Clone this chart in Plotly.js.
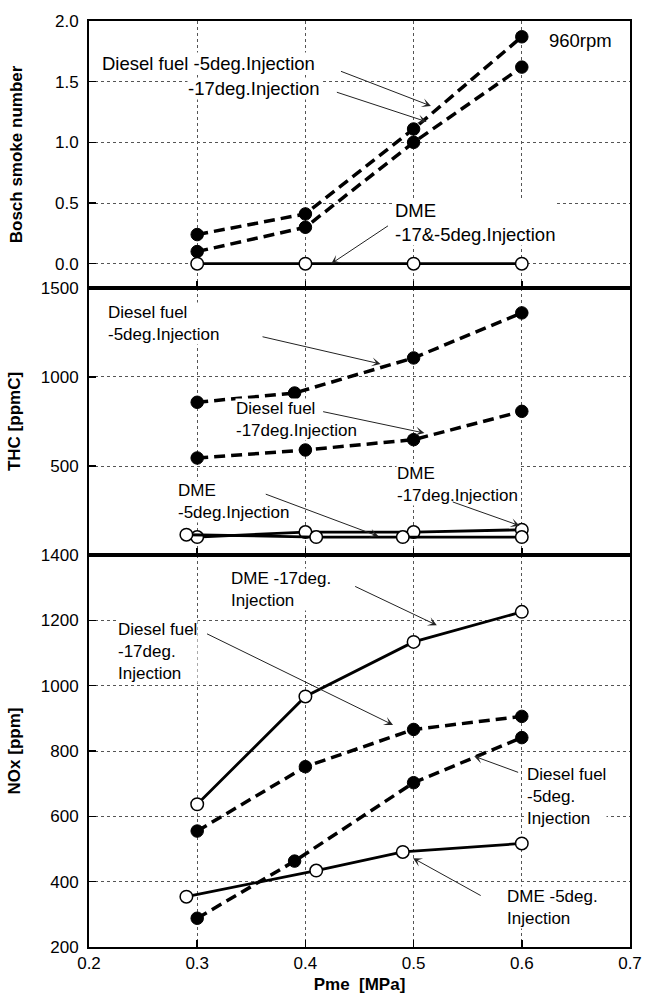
<!DOCTYPE html>
<html>
<head>
<meta charset="utf-8">
<script src="https://cdn.plot.ly/plotly-3.0.1.min.js"></script>
<style>html,body{margin:0;padding:0;background:#fff;}#chart{width:649px;height:1001px;}</style>
</head>
<body>
<div id="chart"></div>
<script>
// ---- data ----
const pme = [0.3, 0.4, 0.5, 0.6];
const xTickLabels = ['0.2', '0.3', '0.4', '0.5', '0.6', '0.7'];

// Bosch smoke number
const smokeDiesel5 = [0.24, 0.41, 1.11, 1.87];
const smokeDiesel17 = [0.10, 0.30, 1.00, 1.62];
const smokeDME = [0, 0, 0, 0];

// THC [ppmC]
const thcDiesel5X = [0.3, 0.39, 0.5, 0.6];
const thcDiesel5 = [858, 910, 1107, 1360];
const thcDiesel17X = [0.3, 0.4, 0.5, 0.6];
const thcDiesel17 = [545, 590, 648, 807];
const thcDME17X = [0.3, 0.4, 0.5, 0.6];
const thcDME17 = [101, 129, 129, 142];
const thcDME5X = [0.29, 0.41, 0.49, 0.6];
const thcDME5 = [114, 101, 101, 101];

// NOx [ppm]
const noxDME17X = [0.3, 0.4, 0.5, 0.6];
const noxDME17 = [637, 967, 1134, 1226];
const noxDiesel17X = [0.3, 0.4, 0.5, 0.6];
const noxDiesel17 = [555, 752, 866, 906];
const noxDiesel5X = [0.3, 0.39, 0.5, 0.6];
const noxDiesel5 = [288, 463, 703, 841];
const noxDME5X = [0.29, 0.41, 0.49, 0.6];
const noxDME5 = [354, 434, 491, 517];

// ---- styles ----
const dieselLine = {color: '#000', width: 3.5, dash: '11px,6px'};
const dmeLine = {color: '#000', width: 2.8};
const filled = {symbol: 'circle', size: 12.5, color: '#000', line: {color: '#000', width: 1}};
const open = {symbol: 'circle', size: 12.5, color: '#fff', line: {color: '#000', width: 1.5}};

function tr(x, y, xa, ya, diesel, name) {
  return {x: x, y: y, xaxis: xa, yaxis: ya, mode: 'lines+markers', name: name,
    line: diesel ? dieselLine : dmeLine, marker: diesel ? filled : open, showlegend: false,
    cliponaxis: false};
}

const data = [
  tr(pme, smokeDiesel5, 'x3', 'y3', true, 'Diesel fuel -5deg'),
  tr(pme, smokeDiesel17, 'x3', 'y3', true, 'Diesel fuel -17deg'),
  tr(pme, smokeDME, 'x3', 'y3', false, 'DME -17&-5deg'),
  tr(thcDiesel5X, thcDiesel5, 'x2', 'y2', true, 'Diesel fuel -5deg'),
  tr(thcDiesel17X, thcDiesel17, 'x2', 'y2', true, 'Diesel fuel -17deg'),
  tr(thcDME17X, thcDME17, 'x2', 'y2', false, 'DME -17deg'),
  tr(thcDME5X, thcDME5, 'x2', 'y2', false, 'DME -5deg'),
  tr(noxDME17X, noxDME17, 'x', 'y', false, 'DME -17deg'),
  tr(noxDiesel17X, noxDiesel17, 'x', 'y', true, 'Diesel fuel -17deg'),
  tr(noxDiesel5X, noxDiesel5, 'x', 'y', true, 'Diesel fuel -5deg'),
  tr(noxDME5X, noxDME5, 'x', 'y', false, 'DME -5deg')
];

const fontFam = 'Liberation Sans, Arial, sans-serif';
const gridCommon = {showgrid: true, gridcolor: '#555', griddash: 'dot', gridwidth: 1,
  showline: true, linecolor: '#000', linewidth: 2, mirror: true, zeroline: false,
  ticks: 'inside', ticklen: 7, tickcolor: '#000', tickwidth: 1.5,
  tickfont: {family: fontFam, size: 17, color: '#000'}};

function xax(anchor, showLabels) {
  return Object.assign({}, gridCommon, {
    anchor: anchor, range: [0.2, 0.7], tickvals: [0.2, 0.3, 0.4, 0.5, 0.6, 0.7],
    ticktext: xTickLabels, showticklabels: showLabels, domain: [0, 1]
  });
}

const layout = {
  width: 649, height: 1001,
  margin: {l: 89, r: 19, t: 21, b: 54},
  paper_bgcolor: '#fff', plot_bgcolor: '#fff',
  font: {family: fontFam, color: '#000', size: 17},
  showlegend: false,
  xaxis: Object.assign(xax('y', true), {
    title: {text: '<b>Pme  [MPa]</b>', font: {family: fontFam, size: 17, color: '#000'}, standoff: 6}
  }),
  xaxis2: Object.assign(xax('y2', false), {matches: 'x'}),
  xaxis3: Object.assign(xax('y3', false), {matches: 'x'}),
  yaxis: Object.assign({}, gridCommon, {
    domain: [0, 0.4233], range: [200, 1400], tickvals: [200, 400, 600, 800, 1000, 1200, 1400],
    ticklabelstandoff: 5,
    title: {text: '<b>NOx [ppm]</b>', font: {family: fontFam, size: 17, color: '#000'}, standoff: 16}
  }),
  yaxis2: Object.assign({}, gridCommon, {
    domain: [0.4233, 0.7117], range: [0, 1500], tickvals: [500, 1000, 1500],
    ticklabelstandoff: 5,
    title: {text: '<b>THC [ppmC]</b>', font: {family: fontFam, size: 17, color: '#000'}, standoff: 16}
  }),
  yaxis3: Object.assign({}, gridCommon, {
    domain: [0.7117, 1], range: [-0.2, 2.0], tickvals: [0, 0.5, 1.0, 1.5, 2.0], tickformat: '.1f',
    ticklabelstandoff: 5,
    title: {text: '<b>Bosch smoke number</b>', font: {family: fontFam, size: 17, color: '#000'}, standoff: 28}
  }),
  annotations: []
};

function label(xr, yr, x, y, text, size) {
  layout.annotations.push({xref: xr, yref: yr, x: x, y: y, text: text, showarrow: false,
    xanchor: 'left', yanchor: 'middle', align: 'left', bgcolor: '#fff', borderpad: 0,
    font: {family: fontFam, size: size || 17, color: '#000'}});
}
function arrow(xr, yr, x0, y0, x1, y1) {
  layout.annotations.push({xref: xr, yref: yr, axref: xr, ayref: yr, x: x1, y: y1, ax: x0, ay: y0,
    text: '', showarrow: true, arrowhead: 3, arrowsize: 1.5, arrowwidth: 1, arrowcolor: '#222',
    standoff: 0, startstandoff: 0});
}

// top panel
label('x3', 'y3', 0.2115, 1.65, 'Diesel fuel -5deg.Injection', 18.5);
label('x3', 'y3', 0.291, 1.445, '-17deg.Injection', 18.5);
label('x3', 'y3', 0.4815, 0.34, 'DME<br>-17&amp;-5deg.Injection', 18.5);
label('x3', 'y3', 0.624, 1.84, '960rpm', 18.5);
arrow('x3', 'y3', 0.4315, 1.59, 0.516, 1.30);
arrow('x3', 'y3', 0.4277, 1.417, 0.512, 1.17);
arrow('x3', 'y3', 0.4777, 0.32, 0.4238, 0.0);

// middle panel
label('x2', 'y2', 0.2164, 1298, 'Diesel fuel<br>-5deg.Injection');
label('x2', 'y2', 0.3345, 760, 'Diesel fuel<br>-17deg.Injection');
label('x2', 'y2', 0.2816, 301, 'DME<br>-5deg.Injection');
label('x2', 'y2', 0.4841, 398, 'DME<br>-17deg.Injection');
arrow('x2', 'y2', 0.359, 1228, 0.4695, 1073);
arrow('x2', 'y2', 0.415, 807, 0.51, 685);
arrow('x2', 'y2', 0.362, 345, 0.4676, 105);
arrow('x2', 'y2', 0.5348, 301, 0.598, 165);

// bottom panel
label('x', 'y', 0.3307, 1295, 'DME -17deg.<br>Injection');
label('x', 'y', 0.226, 1106, 'Diesel fuel<br>-17deg.<br>Injection');
label('x', 'y', 0.6038, 661, 'Diesel fuel<br>-5deg.<br>Injection');
label('x', 'y', 0.5854, 320, 'DME -5deg.<br>Injection');
arrow('x', 'y', 0.4446, 1306, 0.5215, 1185);
arrow('x', 'y', 0.3077, 1161, 0.481, 880);
arrow('x', 'y', 0.598, 733, 0.556, 784);
arrow('x', 'y', 0.5634, 355, 0.4995, 472);

Plotly.newPlot('chart', data, layout, {staticPlot: true, displayModeBar: false});
</script>
</body>
</html>
